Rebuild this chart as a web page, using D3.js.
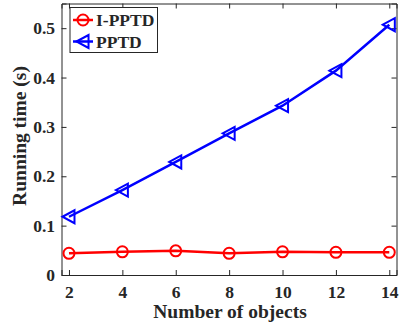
<!DOCTYPE html>
<html><head><meta charset="utf-8">
<script src="https://cdn.jsdelivr.net/npm/d3@7"></script>
<style>body{margin:0;background:#fff}svg{display:block}text{font-family:"Liberation Serif","Times New Roman",serif;font-weight:bold;fill:#262626}</style>
</head><body><svg id="c" width="400" height="331"></svg>
<script>
const objects = [2, 4, 6, 8, 10, 12, 14];
const iPPTD = [0.044, 0.047, 0.049, 0.044, 0.047, 0.046, 0.046];
const pPTD = [0.118, 0.172, 0.229, 0.287, 0.343, 0.414, 0.507];
const xTicks = [2, 4, 6, 8, 10, 12, 14];
const yTicks = [0, 0.1, 0.2, 0.3, 0.4, 0.5];
const yTickLabels = ["0", "0.1", "0.2", "0.3", "0.4", "0.5"];

const svg = d3.select("#c");
const L = 61.5, R = 396.5, T = 3.5, B = 275;
const x = d3.scaleLinear().domain([1.72, 14.27]).range([L, R]);
const y = d3.scaleLinear().domain([0, 0.55]).range([B, T]);
const axc = "#262626";

// axes
const gx = svg.append("g").attr("transform", `translate(0,${B})`)
  .call(d3.axisBottom(x).tickValues(xTicks).tickSize(-5).tickPadding(11).tickFormat(d3.format("d")));
const gxt = svg.append("g").attr("transform", `translate(0,${T})`)
  .call(d3.axisTop(x).tickValues(xTicks).tickSize(-5).tickFormat(""));
const gy = svg.append("g").attr("transform", `translate(${L},0)`)
  .call(d3.axisLeft(y).tickValues(yTicks).tickSize(-5).tickPadding(6.5).tickFormat((d,i)=>yTickLabels[i]));
const gyr = svg.append("g").attr("transform", `translate(${R},0)`)
  .call(d3.axisRight(y).tickValues(yTicks).tickSize(-5).tickFormat(""));
[gx,gxt,gy,gyr].forEach(g=>{
  g.select(".domain").attr("stroke", axc).attr("stroke-width",1);
  g.selectAll(".tick line").attr("stroke", axc).attr("stroke-width",1);
  g.selectAll("text").style("font-size","17.5px").attr("fill",axc);
});

const line = d3.line().x((d,i)=>x(objects[i])).y(d=>y(d));

// PPTD
svg.append("path").datum(pPTD).attr("d", line).attr("fill","none").attr("stroke","#0000ff").attr("stroke-width",2.5);
const tri = s => `M${-s},0L${s*0.85},${-s}L${s*0.85},${s}Z`;
svg.selectAll(".tri").data(pPTD).enter().append("path")
  .attr("transform",(d,i)=>`translate(${x(objects[i])},${y(d)})`)
  .attr("d", tri(6.5)).attr("fill","none").attr("stroke","#0000ff").attr("stroke-width",2);

// I-PPTD
svg.append("path").datum(iPPTD).attr("d", line).attr("fill","none").attr("stroke","#ff0000").attr("stroke-width",2.5);
svg.selectAll(".circ").data(iPPTD).enter().append("circle")
  .attr("cx",(d,i)=>x(objects[i])).attr("cy",d=>y(d)).attr("r",5.5)
  .attr("fill","none").attr("stroke","#ff0000").attr("stroke-width",2);

// legend
const lg = svg.append("g");
lg.append("rect").attr("x",70).attr("y",7.5).attr("width",87.5).attr("height",45)
  .attr("fill","#fff").attr("stroke",axc).attr("stroke-width",1);
const leg = [{n:"I-PPTD",c:"#ff0000",m:"c",y:20},{n:"PPTD",c:"#0000ff",m:"t",y:41.5}];
leg.forEach(e=>{
  lg.append("line").attr("x1",73).attr("x2",93).attr("y1",e.y).attr("y2",e.y).attr("stroke",e.c).attr("stroke-width",2.5);
  if(e.m==="c") lg.append("circle").attr("cx",83).attr("cy",e.y).attr("r",5.5).attr("fill","none").attr("stroke",e.c).attr("stroke-width",2);
  else lg.append("path").attr("transform",`translate(83,${e.y})`).attr("d",tri(6.5)).attr("fill","none").attr("stroke",e.c).attr("stroke-width",2);
  lg.append("text").attr("x",96).attr("y",e.y+6).style("font-size","17.5px").attr("fill","#000").text(e.n);
});

// titles
svg.append("text").attr("x",230).attr("y",318).attr("text-anchor","middle").style("font-size","19.5px").text("Number of objects");
svg.append("text").attr("transform","translate(26,136) rotate(-90)").attr("text-anchor","middle").style("font-size","19.5px").text("Running time (s)");
</script></body></html>
